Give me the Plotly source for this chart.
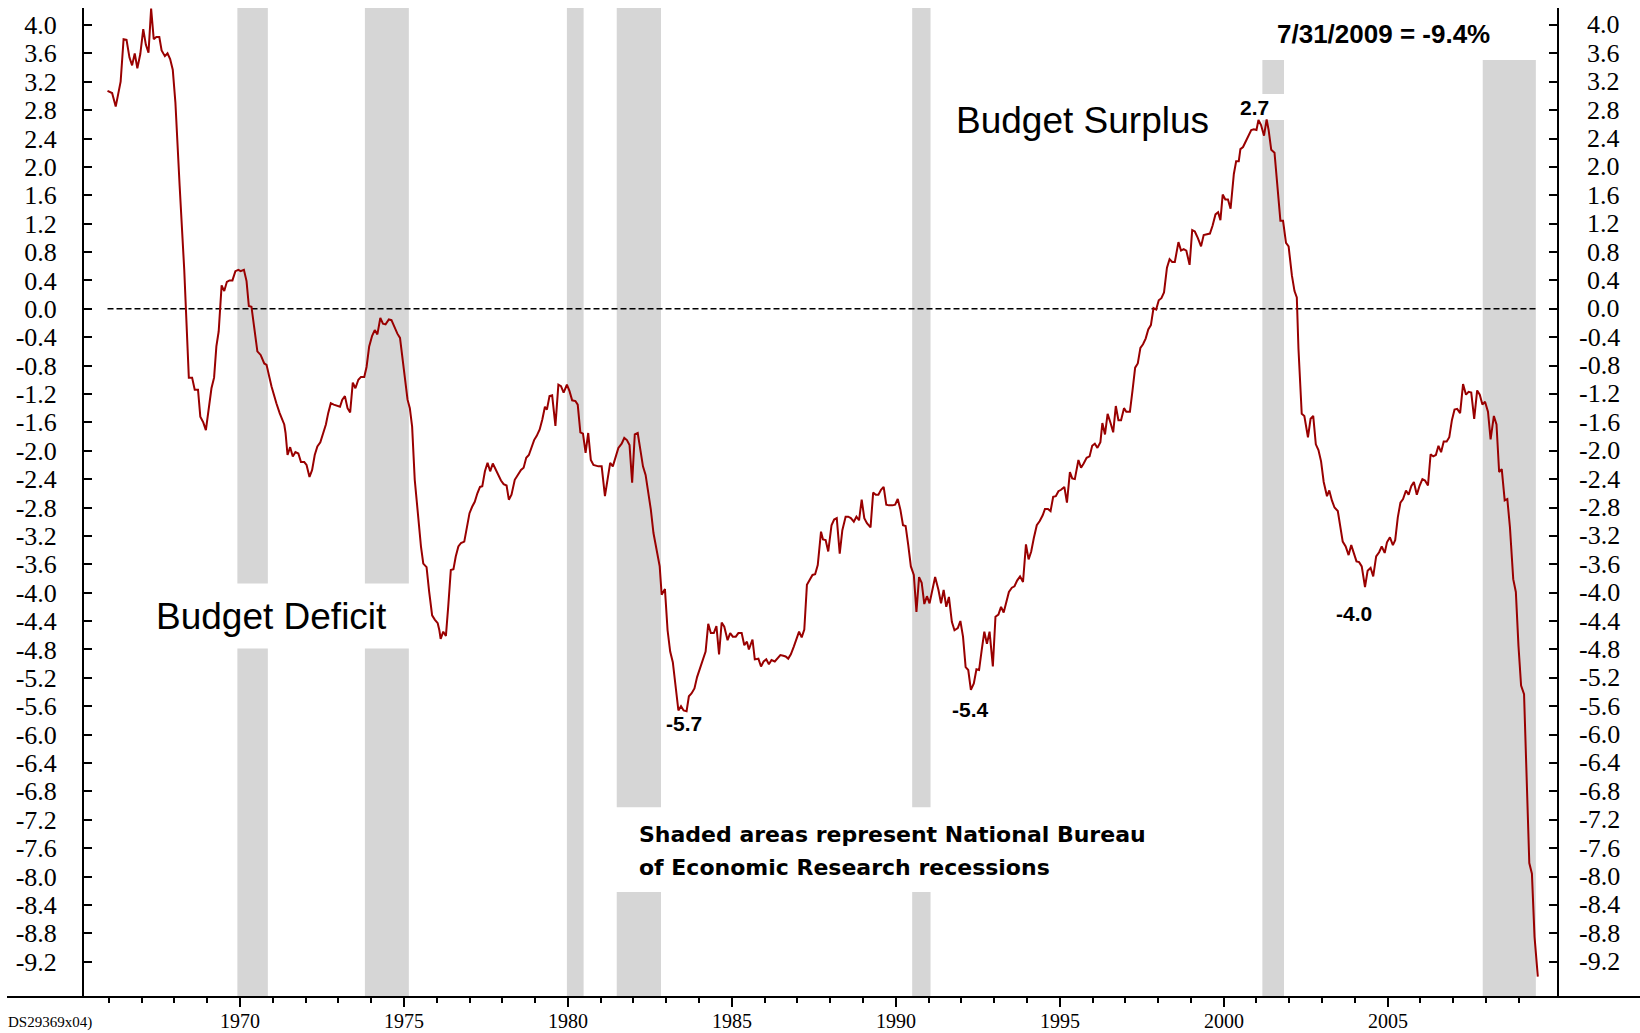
import plotly.graph_objects as go

# ---------------- data ----------------
years = [
    1965.96, 1966.10, 1966.21, 1966.26, 1966.36, 1966.45, 1966.54, 1966.63, 1966.71, 1966.79,
    1966.87, 1966.96, 1967.05, 1967.13, 1967.21, 1967.29, 1967.37, 1967.45, 1967.54, 1967.61,
    1967.71, 1967.79, 1967.87, 1967.95, 1968.03, 1968.16, 1968.30, 1968.44, 1968.54, 1968.62,
    1968.72, 1968.79, 1968.88, 1968.96, 1969.05, 1969.13, 1969.21, 1969.28, 1969.35, 1969.44,
    1969.52, 1969.60, 1969.68, 1969.77, 1969.86, 1969.95, 1970.02, 1970.12, 1970.20, 1970.27,
    1970.35, 1970.45, 1970.53, 1970.63, 1970.74, 1970.81, 1970.96, 1971.11, 1971.21, 1971.35,
    1971.39, 1971.45, 1971.53, 1971.61, 1971.69, 1971.78, 1971.86, 1971.96, 1972.03, 1972.12,
    1972.20, 1972.28, 1972.36, 1972.45, 1972.54, 1972.62, 1972.69, 1972.77, 1972.86, 1972.95,
    1973.05, 1973.12, 1973.20, 1973.28, 1973.36, 1973.44, 1973.52, 1973.61, 1973.69, 1973.79,
    1973.86, 1973.94, 1974.03, 1974.11, 1974.19, 1974.28, 1974.36, 1974.44, 1974.54, 1974.62,
    1974.72, 1974.80, 1974.88, 1974.98, 1975.05, 1975.11, 1975.18, 1975.25, 1975.33, 1975.44,
    1975.52, 1975.59, 1975.69, 1975.77, 1975.86, 1975.94, 1976.03, 1976.08, 1976.12, 1976.20,
    1976.28, 1976.35, 1976.43, 1976.51, 1976.58, 1976.66, 1976.74, 1976.84, 1976.92, 1977.00,
    1977.08, 1977.16, 1977.24, 1977.32, 1977.39, 1977.47, 1977.55, 1977.63, 1977.71, 1977.79,
    1977.88, 1977.96, 1978.04, 1978.13, 1978.20, 1978.28, 1978.38, 1978.49, 1978.57, 1978.65,
    1978.73, 1978.81, 1978.89, 1978.97, 1979.05, 1979.14, 1979.22, 1979.30, 1979.36, 1979.44,
    1979.52, 1979.62, 1979.71, 1979.79, 1979.87, 1979.97, 1980.05, 1980.13, 1980.23, 1980.30,
    1980.38, 1980.46, 1980.54, 1980.62, 1980.70, 1980.78, 1980.93, 1981.03, 1981.13, 1981.21,
    1981.29, 1981.37, 1981.46, 1981.54, 1981.64, 1981.72, 1981.80, 1981.88, 1981.96, 1982.04,
    1982.13, 1982.21, 1982.29, 1982.37, 1982.45, 1982.53, 1982.61, 1982.70, 1982.80, 1982.86,
    1982.96, 1983.04, 1983.12, 1983.20, 1983.29, 1983.37, 1983.45, 1983.53, 1983.62, 1983.69,
    1983.77, 1983.86, 1983.94, 1984.02, 1984.10, 1984.20, 1984.28, 1984.36, 1984.45, 1984.53,
    1984.61, 1984.69, 1984.77, 1984.87, 1984.95, 1985.03, 1985.12, 1985.20, 1985.30, 1985.38,
    1985.46, 1985.52, 1985.63, 1985.70, 1985.81, 1985.89, 1985.97, 1986.05, 1986.13, 1986.21,
    1986.31, 1986.39, 1986.48, 1986.57, 1986.64, 1986.72, 1986.80, 1986.89, 1986.97, 1987.05,
    1987.13, 1987.21, 1987.29, 1987.37, 1987.46, 1987.54, 1987.62, 1987.72, 1987.78, 1987.86,
    1987.94, 1988.04, 1988.12, 1988.20, 1988.29, 1988.37, 1988.47, 1988.55, 1988.63, 1988.72,
    1988.80, 1988.88, 1988.96, 1989.04, 1989.12, 1989.23, 1989.31, 1989.39, 1989.47, 1989.55,
    1989.63, 1989.71, 1989.79, 1989.90, 1989.98, 1990.06, 1990.14, 1990.22, 1990.30, 1990.38,
    1990.46, 1990.55, 1990.63, 1990.71, 1990.79, 1990.87, 1990.95, 1991.03, 1991.12, 1991.20,
    1991.30, 1991.38, 1991.46, 1991.54, 1991.62, 1991.71, 1991.79, 1991.89, 1991.97, 1992.05,
    1992.13, 1992.21, 1992.29, 1992.38, 1992.46, 1992.54, 1992.62, 1992.70, 1992.78, 1992.86,
    1992.96, 1993.04, 1993.13, 1993.21, 1993.29, 1993.38, 1993.45, 1993.54, 1993.62, 1993.70,
    1993.79, 1993.88, 1993.97, 1994.05, 1994.13, 1994.21, 1994.30, 1994.39, 1994.48, 1994.55,
    1994.64, 1994.72, 1994.80, 1994.88, 1994.96, 1995.04, 1995.14, 1995.22, 1995.31, 1995.38,
    1995.46, 1995.57, 1995.65, 1995.73, 1995.82, 1995.91, 1995.99, 1996.07, 1996.15, 1996.24,
    1996.30, 1996.38, 1996.46, 1996.55, 1996.63, 1996.71, 1996.79, 1996.87, 1996.96, 1997.03,
    1997.14, 1997.22, 1997.30, 1997.38, 1997.46, 1997.54, 1997.62, 1997.70, 1997.78, 1997.86,
    1997.94, 1998.02, 1998.10, 1998.18, 1998.27, 1998.35, 1998.43, 1998.51, 1998.62, 1998.70,
    1998.78, 1998.86, 1998.96, 1999.04, 1999.12, 1999.21, 1999.31, 1999.39, 1999.49, 1999.58,
    1999.66, 1999.75, 1999.83, 1999.90, 1999.97, 2000.05, 2000.13, 2000.21, 2000.31, 2000.38,
    2000.46, 2000.51, 2000.59, 2000.67, 2000.76, 2000.84, 2000.92, 2001.00, 2001.06, 2001.14,
    2001.23, 2001.31, 2001.37, 2001.45, 2001.55, 2001.61, 2001.69, 2001.73, 2001.81, 2001.90,
    2001.98, 2002.08, 2002.16, 2002.23, 2002.28, 2002.33, 2002.38, 2002.46, 2002.57, 2002.65,
    2002.73, 2002.81, 2002.89, 2002.97, 2003.05, 2003.15, 2003.22, 2003.30, 2003.38, 2003.48,
    2003.55, 2003.63, 2003.72, 2003.81, 2003.89, 2003.97, 2004.05, 2004.13, 2004.21, 2004.31,
    2004.39, 2004.48, 2004.56, 2004.65, 2004.74, 2004.82, 2004.91, 2004.98, 2005.07, 2005.16,
    2005.23, 2005.31, 2005.39, 2005.47, 2005.56, 2005.64, 2005.72, 2005.80, 2005.89, 2005.97,
    2006.06, 2006.14, 2006.23, 2006.31, 2006.39, 2006.47, 2006.55, 2006.63, 2006.71, 2006.80,
    2006.88, 2006.96, 2007.04, 2007.12, 2007.21, 2007.30, 2007.39, 2007.47, 2007.55, 2007.64,
    2007.73, 2007.81, 2007.89, 2007.97, 2008.06, 2008.14, 2008.24, 2008.32, 2008.40, 2008.48,
    2008.57, 2008.65, 2008.73, 2008.83, 2008.91, 2008.99, 2009.07, 2009.16, 2009.24, 2009.32,
    2009.40, 2009.48, 2009.58,
]
values = [
    3.07, 3.04, 2.85, 2.98, 3.20, 3.80, 3.79, 3.54, 3.43, 3.60,
    3.39, 3.59, 3.94, 3.72, 3.61, 4.23, 3.80, 3.83, 3.83, 3.64,
    3.56, 3.60, 3.52, 3.37, 2.91, 1.73, 0.55, -0.97, -0.97, -1.14,
    -1.14, -1.52, -1.60, -1.71, -1.38, -1.12, -0.97, -0.53, -0.32, 0.33,
    0.25, 0.38, 0.40, 0.40, 0.53, 0.55, 0.53, 0.55, 0.39, 0.04,
    0.03, -0.29, -0.60, -0.65, -0.77, -0.79, -1.09, -1.33, -1.47, -1.63,
    -1.75, -2.06, -1.95, -2.08, -2.02, -2.04, -2.16, -2.16, -2.20, -2.37,
    -2.27, -2.06, -1.94, -1.88, -1.75, -1.63, -1.47, -1.33, -1.35, -1.36,
    -1.38, -1.28, -1.23, -1.40, -1.46, -1.04, -1.12, -1.00, -0.96, -0.96,
    -0.82, -0.53, -0.38, -0.30, -0.36, -0.13, -0.21, -0.22, -0.15, -0.16,
    -0.27, -0.35, -0.41, -0.76, -1.00, -1.28, -1.40, -1.66, -2.41, -2.97,
    -3.35, -3.59, -3.64, -3.99, -4.32, -4.38, -4.43, -4.53, -4.65, -4.55,
    -4.61, -4.20, -3.68, -3.67, -3.49, -3.35, -3.30, -3.28, -3.07, -2.88,
    -2.79, -2.72, -2.60, -2.51, -2.50, -2.29, -2.17, -2.29, -2.18, -2.26,
    -2.36, -2.42, -2.47, -2.49, -2.69, -2.62, -2.41, -2.33, -2.27, -2.24,
    -2.10, -2.06, -1.94, -1.85, -1.79, -1.70, -1.56, -1.38, -1.42, -1.23,
    -1.22, -1.65, -1.07, -1.09, -1.18, -1.07, -1.16, -1.29, -1.30, -1.35,
    -1.74, -1.76, -2.03, -1.75, -2.13, -2.20, -2.22, -2.22, -2.64, -2.43,
    -2.17, -2.22, -2.08, -1.96, -1.90, -1.82, -1.85, -1.92, -2.45, -1.77,
    -1.75, -2.01, -2.22, -2.34, -2.57, -2.83, -3.16, -3.40, -3.63, -4.03,
    -3.95, -4.53, -4.83, -4.98, -5.33, -5.66, -5.60, -5.66, -5.67, -5.46,
    -5.42, -5.35, -5.19, -5.07, -4.95, -4.83, -4.44, -4.57, -4.57, -4.47,
    -4.87, -4.42, -4.48, -4.67, -4.57, -4.62, -4.62, -4.57, -4.57, -4.74,
    -4.69, -4.80, -4.66, -4.94, -4.93, -5.04, -4.97, -4.94, -5.01, -4.95,
    -4.97, -4.93, -4.88, -4.89, -4.90, -4.93, -4.87, -4.76, -4.65, -4.55,
    -4.63, -4.52, -3.89, -3.82, -3.75, -3.74, -3.61, -3.14, -3.25, -3.26,
    -3.42, -3.05, -2.97, -2.95, -3.45, -3.12, -2.93, -2.93, -2.95, -3.00,
    -2.93, -2.98, -2.69, -2.95, -3.02, -3.08, -2.59, -2.62, -2.62, -2.55,
    -2.51, -2.76, -2.77, -2.77, -2.76, -2.68, -2.83, -3.05, -3.06, -3.33,
    -3.63, -3.75, -4.27, -3.78, -3.86, -4.16, -4.05, -4.15, -3.95, -3.78,
    -3.96, -4.15, -3.96, -4.20, -4.06, -4.41, -4.53, -4.50, -4.40, -4.62,
    -5.05, -5.09, -5.37, -5.28, -5.08, -5.09, -4.81, -4.55, -4.72, -4.55,
    -5.04, -4.34, -4.31, -4.20, -4.28, -4.12, -3.99, -3.93, -3.91, -3.83,
    -3.77, -3.85, -3.32, -3.53, -3.42, -3.23, -3.05, -2.99, -2.91, -2.82,
    -2.82, -2.85, -2.65, -2.64, -2.57, -2.55, -2.51, -2.73, -2.30, -2.39,
    -2.40, -2.13, -2.24, -2.18, -2.10, -2.08, -1.93, -1.90, -1.96, -1.88,
    -1.61, -1.77, -1.48, -1.61, -1.74, -1.37, -1.57, -1.57, -1.40, -1.45,
    -1.45, -1.15, -0.83, -0.77, -0.55, -0.50, -0.42, -0.29, -0.23, 0.01,
    -0.01, 0.12, 0.15, 0.23, 0.58, 0.70, 0.66, 0.66, 0.94, 0.82,
    0.84, 0.82, 0.62, 1.11, 1.09, 1.00, 0.88, 1.04, 1.05, 1.06,
    1.17, 1.33, 1.36, 1.25, 1.61, 1.54, 1.54, 1.41, 1.90, 2.08,
    2.08, 2.25, 2.28, 2.35, 2.44, 2.52, 2.53, 2.52, 2.66, 2.59,
    2.44, 2.67, 2.52, 2.24, 2.20, 1.87, 1.50, 1.24, 1.24, 0.93,
    0.88, 0.47, 0.25, 0.16, -0.56, -1.01, -1.48, -1.51, -1.81, -1.55,
    -1.51, -1.91, -1.99, -2.15, -2.44, -2.64, -2.56, -2.70, -2.80, -2.85,
    -3.08, -3.28, -3.35, -3.47, -3.33, -3.45, -3.56, -3.57, -3.63, -3.92,
    -3.69, -3.65, -3.77, -3.49, -3.43, -3.35, -3.44, -3.29, -3.22, -3.33,
    -3.26, -2.94, -2.73, -2.68, -2.56, -2.62, -2.50, -2.44, -2.62, -2.50,
    -2.40, -2.42, -2.49, -2.05, -2.08, -2.06, -1.93, -2.02, -1.87, -1.87,
    -1.81, -1.57, -1.42, -1.41, -1.47, -1.06, -1.21, -1.17, -1.18, -1.55,
    -1.15, -1.21, -1.35, -1.31, -1.45, -1.84, -1.51, -1.63, -2.30, -2.26,
    -2.70, -2.68, -3.08, -3.81, -3.99, -4.75, -5.31, -5.43, -6.68, -7.81,
    -7.96, -8.85, -9.41,
]

# NBER recessions (decimal years)
rec_start = [1969.92, 1973.81, 1979.97, 1981.49, 1990.50, 2001.18, 2007.90]
rec_end = [1970.85, 1975.15, 1980.48, 1982.84, 1991.06, 2001.84, 2009.52]

y_ticks = [4.0, 3.6, 3.2, 2.8, 2.4, 2.0, 1.6, 1.2, 0.8, 0.4, 0.0, -0.4, -0.8, -1.2,
           -1.6, -2.0, -2.4, -2.8, -3.2, -3.6, -4.0, -4.4, -4.8, -5.2, -5.6, -6.0,
           -6.4, -6.8, -7.2, -7.6, -8.0, -8.4, -8.8, -9.2]
y_tick_text = ["4.0", "3.6", "3.2", "2.8", "2.4", "2.0", "1.6", "1.2", "0.8", "0.4", "0.0",
               "-0.4", "-0.8", "-1.2", "-1.6", "-2.0", "-2.4", "-2.8", "-3.2", "-3.6", "-4.0",
               "-4.4", "-4.8", "-5.2", "-5.6", "-6.0", "-6.4", "-6.8", "-7.2", "-7.6", "-8.0",
               "-8.4", "-8.8", "-9.2"]
x_major = [1970, 1975, 1980, 1985, 1990, 1995, 2000, 2005]
x_major_text = ["1970", "1975", "1980", "1985", "1990", "1995", "2000", "2005"]
x_minor = [1966, 1967, 1968, 1969, 1971, 1972, 1973, 1974, 1976, 1977, 1978, 1979,
           1981, 1982, 1983, 1984, 1986, 1987, 1988, 1989, 1991, 1992, 1993, 1994,
           1996, 1997, 1998, 1999, 2001, 2002, 2003, 2004, 2006, 2007, 2008, 2009]

# ---------------- layout constants ----------------
W, H = 1640, 1033
ML, MR, MT, MB = 84, 83, 8, 36
PW = W - ML - MR
PH = H - MT - MB
X_RANGE = [1965.243, 2010.165]
Y_RANGE = [-9.698, 4.239]

RED = "#990000"
SHADE = "#d6d6d6"
SERIF = "Liberation Serif, Times New Roman, serif"
SANS = "Liberation Sans, Arial, sans-serif"
TICK_SIZE = 26

fig = go.Figure()

fig.add_trace(go.Scatter(
    x=[years[0], years[-1]], y=[0, 0], mode="lines",
    line=dict(color="black", width=1.6, dash="6px,3px"),
    hoverinfo="skip", showlegend=False))

fig.add_trace(go.Scatter(
    x=years, y=values, mode="lines",
    line=dict(color=RED, width=2), showlegend=False))

# invisible trace to activate the right axis
fig.add_trace(go.Scatter(
    x=[years[0]], y=[values[0]], yaxis="y2", mode="markers",
    marker=dict(opacity=0), hoverinfo="skip", showlegend=False))

# recession shading, with gaps where text sits
top_default = Y_RANGE[1]
bar_top = {5: 3.506, 6: 3.506}
bar_gaps = {0: [(-4.787, -3.871)], 1: [(-4.787, -3.871)],
            3: [(-8.219, -7.025)], 4: [(-8.219, -7.025)],
            5: [(2.661, 3.027)]}
shapes = []
for i, (s, e) in enumerate(zip(rec_start, rec_end)):
    top = bar_top.get(i, top_default)
    lo = Y_RANGE[0]
    segs = []
    for g0, g1 in bar_gaps.get(i, []):
        segs.append((lo, g0))
        lo = g1
    segs.append((lo, top))
    for a, b in segs:
        shapes.append(dict(type="rect", xref="x", yref="y", x0=s, x1=e, y0=a, y1=b,
                           fillcolor=SHADE, line=dict(width=0), layer="below"))

# bottom axis line extending beyond the plot
shapes.append(dict(type="line", xref="paper", yref="paper",
                   x0=(7 - ML) / PW, x1=(W - ML) / PW, y0=0, y1=0,
                   line=dict(color="black", width=2), layer="above"))

annotations = []
# right axis labels (right aligned)
for v, t in zip(y_ticks, y_tick_text):
    annotations.append(dict(x=(1622 - ML) / PW, xref="paper", y=v, yref="y",
                            text=t, showarrow=False, xanchor="right", yanchor="middle",
                            font=dict(family=SERIF, size=TICK_SIZE, color="black")))

# year labels under the major ticks
for v, t in zip(x_major, x_major_text):
    annotations.append(dict(x=v, xref="x", y=(997 - 1021) / PH, yref="paper",
                            text=t, showarrow=False, xanchor="center", yanchor="middle",
                            borderpad=0,
                            font=dict(family=SERIF, size=20, color="black")))


def note(text, x, y, size, bold=False, family=SANS, xanchor="center"):
    if bold:
        text = "<b>" + text + "</b>"
    annotations.append(dict(x=x, y=y, xref="x", yref="y", text=text, showarrow=False,
                            xanchor=xanchor, yanchor="middle",
                            font=dict(family=family, size=size, color="black")))


note("Budget Deficit", 1970.95, -4.336, 37)
note("Budget Surplus", 1995.69, 2.651, 37)
note("7/31/2009 = -9.4%", 2004.87, 3.866, 26, bold=True)
note("2.7", 2000.95, 2.833, 21, bold=True)
note("-5.7", 1983.54, -5.85, 21, bold=True)
note("-5.4", 1992.27, -5.64, 21, bold=True)
note("-4.0", 2003.98, -4.29, 21, bold=True)
note("Shaded areas represent National Bureau", 1982.10, -7.415, 22, bold=True,
     family="DejaVu Sans, sans-serif", xanchor="left")
note("of Economic Research recessions", 1982.10, -7.873, 22, bold=True,
     family="DejaVu Sans, sans-serif", xanchor="left")

annotations.append(dict(x=(7 - ML) / PW, xref="paper", y=(997 - 1022) / PH, yref="paper",
                        text="DS29369x04)", showarrow=False, xanchor="left", yanchor="middle",
                        borderpad=0,
                        font=dict(family=SERIF, size=15, color="black")))

fig.update_layout(
    width=W, height=H, autosize=False,
    margin=dict(l=ML, r=MR, t=MT, b=MB, pad=0, autoexpand=False),
    paper_bgcolor="white", plot_bgcolor="white",
    showlegend=False,
    shapes=shapes, annotations=annotations,
    xaxis=dict(range=X_RANGE, showgrid=False, zeroline=False, showline=False,
               automargin=False,
               tickmode="array", tickvals=x_major, ticktext=x_major_text,
               showticklabels=False,
               ticks="outside", ticklen=9, tickwidth=2, tickcolor="black",
               minor=dict(tickmode="array", tickvals=x_minor, ticks="outside",
                          ticklen=5, tickwidth=2, tickcolor="black", showgrid=False)),
    yaxis=dict(range=Y_RANGE, showgrid=False, zeroline=False, showline=True,
               automargin=False,
               linecolor="black", linewidth=2,
               tickmode="array", tickvals=y_ticks, ticktext=y_tick_text,
               ticks="inside", ticklen=8, tickwidth=2, tickcolor="black",
               ticklabelstandoff=20,
               tickfont=dict(family=SERIF, size=TICK_SIZE, color="black")),
    yaxis2=dict(range=Y_RANGE, overlaying="y", side="right", showgrid=False,
                automargin=False,
                zeroline=False, showline=True, linecolor="black", linewidth=2,
                tickmode="array", tickvals=y_ticks, showticklabels=False,
                ticks="inside", ticklen=8, tickwidth=2, tickcolor="black"),
)

fig.write_html(
    "out.html",
    config={"displayModeBar": False},
    post_script="document.body.style.margin='0';document.body.style.overflow='hidden';",
)
